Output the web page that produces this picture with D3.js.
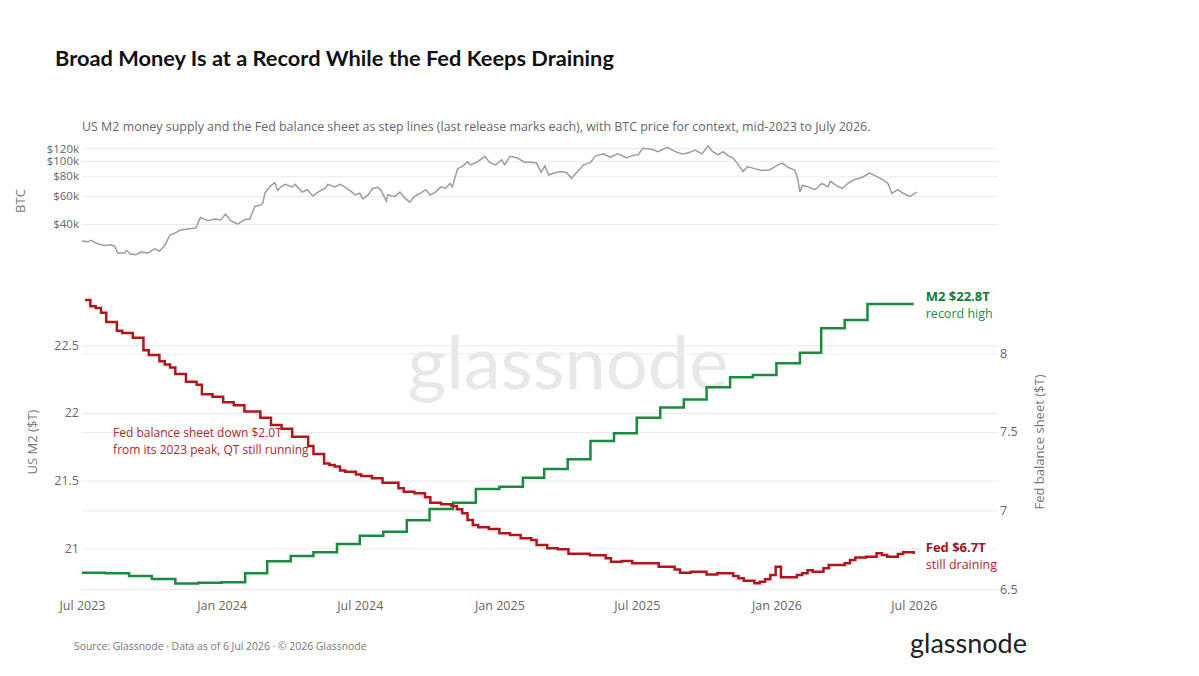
<!DOCTYPE html>
<html>
<head>
<meta charset="utf-8">
<style>
  body { margin: 0; background: #fff; }
  text { font-family: "Open Sans", "Noto Sans", sans-serif; }
</style>
</head>
<body>
<div id="chart"></div>

<script src="https://d3js.org/d3.v7.min.js"></script>

<script>
// ---- data ----

// US M2, monthly release (value in $T), month of the release
var m2Months = ["2023-07","2023-08","2023-09","2023-10","2023-11","2023-12",
                "2024-01","2024-02","2024-03","2024-04","2024-05","2024-06",
                "2024-07","2024-08","2024-09","2024-10","2024-11","2024-12",
                "2025-01","2025-02","2025-03","2025-04","2025-05","2025-06",
                "2025-07","2025-08","2025-09","2025-10","2025-11","2025-12",
                "2026-01","2026-02","2026-03","2026-04","2026-05","2026-06"];
var m2Values = [20.82, 20.815, 20.795, 20.773, 20.739, 20.746,
                20.749, 20.815, 20.904, 20.943, 20.97, 21.032,
                21.093, 21.123, 21.207, 21.29, 21.337, 21.438,
                21.455, 21.521, 21.586, 21.657, 21.792, 21.849,
                21.965, 22.04, 22.10, 22.189, 22.263, 22.28,
                22.366, 22.445, 22.625, 22.686, 22.804, 22.804];

// Fed balance sheet, weekly (Wednesday) release from 5 Jul 2023, $T
var fedFirstRelease = "2023-07-05";
var fedValues = [
  8.34, 8.30, 8.29, 8.26, 8.20, 8.20, 8.145, 8.13, 8.13, 8.10,
  8.10, 8.02, 7.99, 7.99, 7.95, 7.93, 7.91, 7.87, 7.87, 7.82,
  7.82, 7.80, 7.74, 7.74, 7.725, 7.725, 7.69, 7.69, 7.67, 7.67,
  7.63, 7.63, 7.63, 7.59, 7.59, 7.545, 7.545, 7.52, 7.52, 7.47,
  7.47, 7.47, 7.41, 7.36, 7.36, 7.30, 7.29, 7.28, 7.254, 7.247,
  7.247, 7.23, 7.22, 7.22, 7.205, 7.205, 7.177, 7.177, 7.177, 7.141,
  7.12, 7.12, 7.11, 7.11, 7.084, 7.05, 7.05, 7.04, 7.04, 7.029,
  7.008, 6.982, 6.94, 6.908, 6.893, 6.893, 6.882, 6.882, 6.855, 6.855,
  6.844, 6.844, 6.823, 6.823, 6.812, 6.78, 6.78, 6.759, 6.759, 6.753,
  6.753, 6.725, 6.725, 6.725, 6.725, 6.715, 6.715, 6.715, 6.696, 6.674,
  6.674, 6.678, 6.678, 6.664, 6.664, 6.664, 6.664, 6.664, 6.642, 6.642,
  6.642, 6.625, 6.604, 6.604, 6.61, 6.61, 6.61, 6.593, 6.593, 6.60,
  6.60, 6.60, 6.583, 6.568, 6.553, 6.553, 6.536, 6.547, 6.562, 6.589,
  6.642, 6.575, 6.575, 6.575, 6.589, 6.60, 6.62, 6.61, 6.61, 6.632,
  6.653, 6.653, 6.653, 6.664, 6.685, 6.70, 6.70, 6.706, 6.706, 6.727,
  6.717, 6.706, 6.706, 6.723, 6.734, 6.734, 6.723
];

// BTC price (USD), sampled along the line
var btcDates = [
  "2023-07-01","2023-07-09","2023-07-13","2023-07-22","2023-07-31","2023-08-08","2023-08-13","2023-08-17",
  "2023-08-26","2023-08-29","2023-09-02","2023-09-10","2023-09-17","2023-09-26","2023-10-05","2023-10-11",
  "2023-10-18","2023-10-25","2023-10-31","2023-11-08","2023-11-17","2023-11-28","2023-12-04","2023-12-14",
  "2023-12-23","2023-12-31","2024-01-06","2024-01-13","2024-01-22","2024-01-31","2024-02-07","2024-02-14",
  "2024-02-20","2024-02-24","2024-02-27","2024-03-04","2024-03-11","2024-03-15","2024-03-19","2024-03-25",
  "2024-04-03","2024-04-07","2024-04-16","2024-04-23","2024-04-30","2024-05-07","2024-05-16","2024-05-20",
  "2024-05-29","2024-06-05","2024-06-11","2024-06-18","2024-06-25","2024-07-01","2024-07-05","2024-07-12",
  "2024-07-18","2024-07-25","2024-07-29","2024-08-05","2024-08-07","2024-08-16","2024-08-23","2024-08-29",
  "2024-09-05","2024-09-11","2024-09-19","2024-09-26","2024-10-02","2024-10-09","2024-10-16","2024-10-22",
  "2024-10-28","2024-10-31","2024-11-07","2024-11-13","2024-11-20","2024-11-24","2024-12-03","2024-12-13",
  "2024-12-19","2024-12-27","2025-01-04","2025-01-08","2025-01-15","2025-01-25","2025-02-03","2025-02-12",
  "2025-02-19","2025-02-25","2025-03-02","2025-03-07","2025-03-16","2025-03-25","2025-03-31","2025-04-06",
  "2025-04-14","2025-04-22","2025-05-01","2025-05-07","2025-05-18","2025-05-27","2025-06-06","2025-06-18",
  "2025-06-25","2025-07-03","2025-07-09","2025-07-21","2025-07-29","2025-08-10","2025-08-21","2025-08-30",
  "2025-09-07","2025-09-16","2025-09-25","2025-10-03","2025-10-09","2025-10-16","2025-10-23","2025-10-29",
  "2025-11-05","2025-11-11","2025-11-18","2025-11-24","2025-12-03","2025-12-13","2025-12-23","2026-01-03",
  "2026-01-09","2026-01-16","2026-01-25","2026-01-29","2026-02-01","2026-02-04","2026-02-12","2026-02-21",
  "2026-03-02","2026-03-10","2026-03-13","2026-03-22","2026-03-29","2026-04-05","2026-04-14","2026-04-23",
  "2026-05-04","2026-05-13","2026-05-21","2026-05-28","2026-06-02","2026-06-10","2026-06-17","2026-06-26",
  "2026-07-05"
];
var btcPrices = [
  31300, 30900, 31600, 30000, 29300, 29600, 29000, 26300,
  26300, 27300, 26000, 25600, 26600, 26300, 28000, 26900,
  29300, 34200, 35000, 36700, 37200, 37800, 44000, 42000,
  43000, 42400, 46200, 42000, 40000, 42600, 43000, 51800,
  52300, 53800, 62500, 68600, 72800, 65100, 68600, 71200,
  68600, 71200, 63600, 65800, 60000, 63600, 67000, 71200,
  68600, 71200, 68600, 65100, 61000, 62500, 57700, 61000,
  67000, 68100, 65100, 55800, 61000, 59700, 63600, 58400,
  54900, 59700, 62500, 65800, 61000, 63600, 68600, 67000,
  72000, 68600, 89400, 92000, 98600, 94400, 98600, 106900,
  97900, 94400, 101600, 94400, 106900, 104200, 97900, 97900,
  96900, 84500, 92900, 81500, 84500, 85700, 83900, 77600,
  85700, 94400, 97900, 106900, 110700, 105500, 110700, 104200,
  107900, 109600, 120000, 118300, 114300, 121700, 114300, 110700,
  112400, 117100, 110700, 124600, 114300, 109600, 114300, 107900,
  104200, 95800, 85700, 92000, 89400, 86900, 87600, 94400,
  96900, 91100, 87600, 77600, 63600, 70000, 68600, 65800,
  72000, 68600, 74400, 69300, 67000, 72000, 76300, 78300,
  83900, 79800, 76300, 72000, 62300, 65800, 62500, 59700,
  63600
];

var btcTicks = [40000, 60000, 80000, 100000, 120000];
var m2Ticks = [21, 21.5, 22, 22.5];
var fedTicks = [6.5, 7, 7.5, 8];
var xTickDates = ["2023-07-01","2024-01-01","2024-07-01","2025-01-01","2025-07-01","2026-01-01","2026-07-01"];

// ---- layout ----
var width = 1199, height = 676;
var plotLeft = 82, plotRight = 998;
var btcTop = 140, btcBottom = 262;
var lowTop = 285, lowBottom = 592;

var green = "#1a8a3f", red = "#b3151d", grid = "#ebebeb", axisText = "#666";

var parseDay = d3.timeParse("%Y-%m-%d");
var parseMonth = d3.timeParse("%Y-%m");

var m2Data = m2Months.map(function(m, i) { return {date: parseMonth(m), value: m2Values[i]}; });
var fedData = fedValues.map(function(v, i) {
  return {date: d3.timeDay.offset(parseDay(fedFirstRelease), 7 * i), value: v};
});
var btcData = btcDates.map(function(d, i) { return {date: parseDay(d), value: btcPrices[i]}; });

// M2 holds its last release until the latest data point
var lastDate = fedData[fedData.length - 1].date;
m2Data.push({date: lastDate, value: m2Data[m2Data.length - 1].value});

var svg = d3.select("#chart")
  .append("svg")
    .attr("width", width)
    .attr("height", height);

// scales
var x = d3.scaleTime()
  .domain([parseDay("2023-07-01"), parseDay("2026-10-20")])
  .range([plotLeft, plotRight]);

var yBtc = d3.scaleLog()
  .domain([23050, 135400])
  .range([btcBottom, btcTop]);

var yM2 = d3.scaleLinear()
  .domain([20.677, 22.945])
  .range([lowBottom, lowTop]);

var yFed = d3.scaleLinear()
  .domain([6.481, 8.436])
  .range([lowBottom, lowTop]);

var plainNum = d3.format("~g");

function styleAxis(g) {
  g.select(".domain").remove();
  g.selectAll(".tick line").attr("stroke", grid).attr("stroke-width", 1);
  g.selectAll(".tick text").attr("fill", axisText).style("font-size", "12.5px")
    .style("font-family", "'Open Sans', sans-serif");
}

// title + subtitle
svg.append("text")
  .attr("x", 55).attr("y", 66)
  .style("font-family", "Lato, sans-serif")
  .style("font-weight", "bold")
  .style("font-size", "21.8px")
  .attr("fill", "#111")
  .text("Broad Money Is at a Record While the Fed Keeps Draining");

svg.append("text")
  .attr("x", 82).attr("y", 131)
  .style("font-size", "12.45px")
  .attr("fill", "#666")
  .text("US M2 money supply and the Fed balance sheet as step lines (last release marks each), with BTC price for context, mid-2023 to July 2026.");

// watermark
svg.append("text")
  .attr("x", 568).attr("y", 389)
  .attr("text-anchor", "middle")
  .style("font-family", "Lato, sans-serif")
  .style("font-size", "74px")
  .attr("fill", "#e8e8e8")
  .text("glassnode");

// BTC panel axis + grid
svg.append("g")
  .attr("transform", "translate(" + plotLeft + ",0)")
  .call(d3.axisLeft(yBtc).tickValues(btcTicks).tickSize(-(plotRight - plotLeft)).tickPadding(3)
    .tickFormat(function(d) { return "$" + (d / 1000) + "k"; }))
  .call(styleAxis)
  .call(function(g) { g.selectAll(".tick text").style("font-size", "11.5px"); });

// lower panel grids: left (M2) and right (Fed)
svg.append("g")
  .attr("transform", "translate(" + plotLeft + ",0)")
  .call(d3.axisLeft(yM2).tickValues(m2Ticks).tickSize(-(plotRight - plotLeft)).tickPadding(3)
    .tickFormat(plainNum))
  .call(styleAxis);

svg.append("g")
  .attr("transform", "translate(" + plotRight + ",0)")
  .call(d3.axisRight(yFed).tickValues(fedTicks).tickSize(-(plotRight - plotLeft)).tickPadding(2)
    .tickFormat(plainNum))
  .call(styleAxis);

// x axis
svg.append("g")
  .attr("transform", "translate(0," + lowBottom + ")")
  .call(d3.axisBottom(x).tickValues(xTickDates.map(parseDay)).tickSize(0).tickPadding(9)
    .tickFormat(d3.timeFormat("%b %Y")))
  .call(styleAxis);

// axis titles
function axisTitle(tx, ty, label) {
  svg.append("text")
    .attr("transform", "translate(" + tx + "," + ty + ") rotate(-90)")
    .attr("text-anchor", "middle")
    .style("font-size", "13px")
    .attr("fill", "#777")
    .text(label);
}
axisTitle(25, 201, "BTC");
axisTitle(37, 442, "US M2 ($T)");
axisTitle(1044, 442, "Fed balance sheet ($T)");

// lines
svg.append("path")
  .datum(btcData)
  .attr("fill", "none")
  .attr("stroke", "#989da7")
  .attr("stroke-width", 1.5)
  .attr("d", d3.line()
    .x(function(d) { return x(d.date); })
    .y(function(d) { return yBtc(d.value); }));

svg.append("path")
  .datum(m2Data)
  .attr("fill", "none")
  .attr("stroke", green)
  .attr("stroke-width", 2.5)
  .attr("d", d3.line()
    .curve(d3.curveStepAfter)
    .x(function(d) { return x(d.date); })
    .y(function(d) { return yM2(d.value); }));

svg.append("path")
  .datum(fedData)
  .attr("fill", "none")
  .attr("stroke", red)
  .attr("stroke-width", 2.5)
  .attr("d", d3.line()
    .curve(d3.curveStepAfter)
    .x(function(d) { return x(d.date); })
    .y(function(d) { return yFed(d.value); }));

// annotations
var ann = svg.append("text")
  .attr("x", x(parseDay("2023-08-11")))
  .attr("y", yM2(21.82))
  .style("font-size", "12px")
  .attr("fill", "#b3262b");
ann.append("tspan").text("Fed balance sheet down $2.0T");
ann.append("tspan").attr("x", x(parseDay("2023-08-11"))).attr("dy", 17).text("from its 2023 peak, QT still running");

var lastM2 = m2Data[m2Data.length - 1], lastFed = fedData[fedData.length - 1];
var labelX = x(lastDate) + 12;

svg.append("text")
  .attr("x", labelX).attr("y", yM2(lastM2.value) - 3)
  .style("font-size", "13px").style("font-weight", "bold")
  .attr("fill", "#157a38")
  .text("M2 $" + lastM2.value.toFixed(1) + "T");
svg.append("text")
  .attr("x", labelX).attr("y", yM2(lastM2.value) + 14)
  .style("font-size", "12.5px")
  .attr("fill", "#1f8a44")
  .text("record high");

svg.append("text")
  .attr("x", labelX).attr("y", yFed(lastFed.value) - 2)
  .style("font-size", "13px").style("font-weight", "bold")
  .attr("fill", "#a8141b")
  .text("Fed $" + lastFed.value.toFixed(1) + "T");
svg.append("text")
  .attr("x", labelX).attr("y", yFed(lastFed.value) + 15)
  .style("font-size", "12.5px")
  .attr("fill", "#b3262b")
  .text("still draining");

// footer
svg.append("text")
  .attr("x", 74).attr("y", 650)
  .style("font-size", "10.4px")
  .attr("fill", "#777")
  .text("Source: Glassnode \u00b7 Data as of 6 Jul 2026 \u00b7 \u00a9 2026 Glassnode");

svg.append("text")
  .attr("x", 910).attr("y", 653)
  .style("font-family", "Lato, sans-serif")
  .style("font-size", "27px")
  .attr("fill", "#222")
  .text("glassnode");
</script>
</body>
</html>
